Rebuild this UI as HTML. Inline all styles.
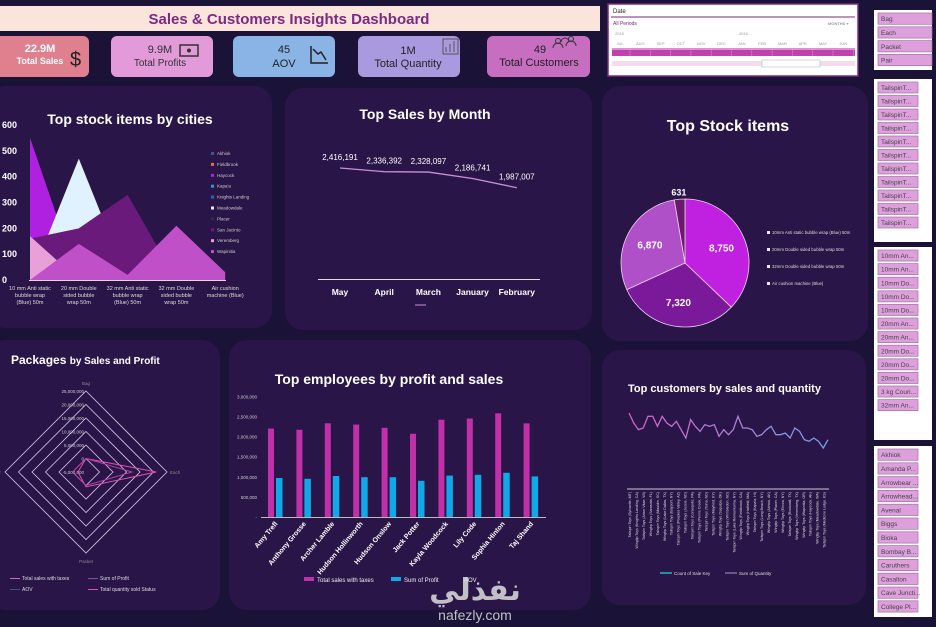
<!DOCTYPE html>
<html><head><meta charset="utf-8">
<style>
html,body{margin:0;padding:0;background:#1b1238;width:936px;height:627px;overflow:hidden;font-family:"Liberation Sans","DejaVu Sans",sans-serif;}
svg{display:block}
text{font-family:"Liberation Sans","DejaVu Sans",sans-serif}
</style></head>
<body>
<svg id="s" width="936" height="627" viewBox="0 0 936 627" xmlns="http://www.w3.org/2000/svg">
<rect x="0" y="0" width="936" height="627" fill="#1b1238"/>
<rect x="0" y="6" width="600" height="25" fill="#fbe4dc"/>
<text x="289" y="24" text-anchor="middle" font-size="15" font-weight="bold" fill="#7a2a80">Sales &amp; Customers Insights Dashboard</text>
<g><rect x="-6" y="36" width="95" height="41" rx="6" fill="#e0808f"/><text x="40" y="52" text-anchor="middle" font-size="11" font-weight="bold" fill="#fff">22.9M</text><text x="40" y="64" text-anchor="middle" font-size="9" font-weight="bold" fill="#fff">Total Sales</text><text x="70" y="66" font-size="20" fill="#222">$</text></g>
<g><rect x="111" y="36" width="102" height="41" rx="6" fill="#e29ad8"/><text x="160" y="53" text-anchor="middle" font-size="11" fill="#333">9.9M</text><text x="160" y="66" text-anchor="middle" font-size="10" fill="#333">Total Profits</text><rect x="180" y="45" width="18" height="11" fill="none" stroke="#333" stroke-width="1.5"/><circle cx="189" cy="50.5" r="2" fill="#333"/></g>
<g><rect x="233" y="36" width="102" height="41" rx="6" fill="#8ab4e6"/><text x="284" y="53" text-anchor="middle" font-size="11" fill="#222">45</text><text x="284" y="67" text-anchor="middle" font-size="11" fill="#222">AOV</text><path d="M311 46 L311 63 L328 63 M313 49 L318 54 L321 52 L326 60" fill="none" stroke="#222" stroke-width="1.5"/></g>
<g><rect x="358" y="36" width="102" height="41" rx="6" fill="#a99ae0"/><text x="408" y="54" text-anchor="middle" font-size="11" fill="#222">1M</text><text x="408" y="67" text-anchor="middle" font-size="11" fill="#222">Total Quantity</text><path d="M443 39 L443 54 L458 54 L458 39 Z M446 52 V47 M450 52 V44 M454 52 V41" fill="none" stroke="#555" stroke-width="1"/></g>
<g><rect x="487" y="36" width="103" height="41" rx="6" fill="#c76ec0"/><text x="540" y="53" text-anchor="middle" font-size="11" fill="#222">49</text><text x="539" y="66" text-anchor="middle" font-size="11" fill="#222">Total Customers</text><path d="M553 48 a5 5 0 0 1 10 0 M566 46 a5 5 0 0 1 10 0 M561 42 a4 4 0 0 1 8 0" fill="none" stroke="#333" stroke-width="1"/><circle cx="558" cy="41" r="2.5" fill="none" stroke="#333"/><circle cx="571" cy="39" r="2.5" fill="none" stroke="#333"/></g>

<rect x="-12" y="86" width="284" height="242" rx="18" fill="#2a1548"/>
<rect x="285" y="88" width="307" height="242" rx="18" fill="#2a1548"/>
<rect x="602" y="86" width="266" height="255" rx="18" fill="#2a1548"/>
<rect x="-12" y="340" width="232" height="270" rx="18" fill="#2a1548"/>
<rect x="229" y="340" width="362" height="270" rx="18" fill="#2a1548"/>
<rect x="602" y="350" width="264" height="255" rx="18" fill="#2a1548"/>

<text x="130" y="124" text-anchor="middle" font-size="14" font-weight="bold" fill="#fff">Top stock items by cities</text>
<text x="425" y="119" text-anchor="middle" font-size="14" font-weight="bold" fill="#fff">Top Sales by Month</text>
<text x="728" y="131" text-anchor="middle" font-size="16" font-weight="bold" fill="#fff">Top Stock items</text>
<text x="11" y="364" font-size="12" font-weight="bold" fill="#fff">Packages <tspan font-size="10">by Sales and Profit</tspan></text>
<text x="389" y="384" text-anchor="middle" font-size="14" font-weight="bold" fill="#fff">Top employees by profit and sales</text>
<text x="628" y="392" font-size="11" font-weight="bold" fill="#fff">Top customers by sales and quantity</text>

<g id="c1"></g><g id="c2"></g><g id="c3"></g><g id="c4"></g><g id="c5"></g><g id="c6"></g><g id="sl"></g>

<g id="dateSlicer">
<rect x="608" y="4" width="250" height="72" fill="#fff" stroke="#7a2a80" stroke-width="1.5"/>
<text x="613" y="13" font-size="6" fill="#222">Date</text>
<line x1="611" y1="17" x2="855" y2="17" stroke="#7a2a80" stroke-width="1"/>
<text x="613" y="25" font-size="5" fill="#7a2a80">All Periods</text>
<text x="828" y="25" font-size="4" fill="#999">MONTHS ▾</text>
<text x="615" y="35" font-size="4" fill="#999">2015</text><text x="739" y="35" font-size="4" fill="#999">2016</text>
<rect x="612" y="48" width="243" height="8" fill="#c040b0"/>
<rect x="612" y="48" width="243" height="2" fill="#e090d0"/>
<rect x="612" y="61" width="243" height="5" fill="#f4dcef"/>
<rect x="762" y="60" width="58" height="7" fill="#fff" stroke="#aaa" stroke-width="0.5"/>
</g>
<text x="475" y="600" text-anchor="middle" font-size="30" font-weight="bold" fill="#ddd" opacity="0.85" font-family="DejaVu Sans">نفذلي</text>
<text x="475" y="620" text-anchor="middle" font-size="14" fill="#ddd" opacity="0.85">nafezly.com</text>
</svg>
<script>
const NS='http://www.w3.org/2000/svg';
function mk(p,t,a,txt){const e=document.createElementNS(NS,t);for(const k in a)e.setAttribute(k,a[k]);if(txt!==undefined)e.textContent=txt;p.appendChild(e);return e;}

const dsMonths=['JUL','AUG','SEP','OCT','NOV','DEC','JAN','FEB','MAR','APR','MAY','JUN'];
const ds=document.getElementById('dateSlicer');
dsMonths.forEach((m,i)=>{const x=620+i*20.3;mk(ds,'text',{x,y:45,'text-anchor':'middle','font-size':4,fill:'#999'},m);mk(ds,'line',{x1:x+10,y1:48,x2:x+10,y2:56,stroke:'#e090d0','stroke-width':0.5});});
ds.querySelector('text:nth-of-type(3)').setAttribute('font-weight','bold');

// Chart 1
const c1Cats=['10 mm Anti static|bubble wrap|(Blue) 50m','20 mm Double|sided bubble|wrap 50m','32 mm Anti static|bubble wrap|(Blue) 50m','32 mm Double|sided bubble|wrap 50m','Air cushion|machine (Blue)'];
const c1Cities=['Akhiok','Fieldbrook','Haycock',"Kapa'a",'Knights Landing','Meadowdale','Placer','San Jacinto','Veremberg','Wapinitia'];
const c1Colors=['#3a5a8a','#e0704a','#b020e0','#2a9ac0','#2070b0','#e0f2ff','#2a2a5a','#6a1a7a','#e8a0d8','#c050c8'];
const c1Haycock=[550,0,0,0,0];
const c1Meadowdale=[0,470,0,0,0];
const c1Kapaa=[0,0,0,130,0];
const c1SanJacinto=[160,200,330,0,0];
const c1Veremberg=[170,0,0,0,0];
const c1Wapinitia=[0,140,20,210,30];
const c1Ticks=[0,100,200,300,400,500,600];
const g1=document.getElementById('c1');
const x1=i=>30+i*48.8, y1=v=>280-v*0.2583;
c1Ticks.forEach(t=>{const e=mk(g1,'text',{x:2,y:y1(t)+3,'font-size':9,'font-weight':'bold',fill:'#fff'},t);

});
[[c1Haycock,2],[c1Meadowdale,5],[c1Kapaa,3],[c1SanJacinto,7],[c1Veremberg,8],[c1Wapinitia,9]].forEach(([arr,ci])=>{
 let d='M'+x1(0)+' '+y1(0);arr.forEach((v,i)=>d+=' L'+x1(i)+' '+y1(v));d+=' L'+x1(arr.length-1)+' '+y1(0)+'Z';
 const e=mk(g1,'path',{d,fill:c1Colors[ci]});
 
 });
mk(g1,'line',{x1:29,y1:280.5,x2:226,y2:280.5,stroke:'#ddd','stroke-width':1});
c1Cats.forEach((c,i)=>{c.split('|').forEach((l,j)=>{const e=mk(g1,'text',{x:x1(i),y:290+j*7,'text-anchor':'middle','font-size':5.5,fill:'#ddd'},l);

});});
c1Cities.forEach((c,i)=>{const y=155+i*10.9;mk(g1,'rect',{x:211,y:y-3,width:3,height:3,fill:c1Colors[i]});
const e=mk(g1,'text',{x:217,y:y,'font-size':4.5,fill:'#ccc'},c);

});

// Chart 2
const c2Months=['May','April','March','January','February'];
const c2Sales=[2416191,2336392,2328097,2186741,1987007];
const g2=document.getElementById('c2');
const x2=i=>340+i*44.2, y2=v=>279-v*4.594e-5;
mk(g2,'line',{x1:318,y1:279.5,x2:540,y2:279.5,stroke:'#ddd','stroke-width':1});
const ln=mk(g2,'polyline',{points:c2Sales.map((v,i)=>x2(i)+','+y2(v)).join(' '),fill:'none',stroke:'#c890d8','stroke-width':1.3});


c2Sales.forEach((v,i)=>{const e=mk(g2,'text',{x:x2(i),y:y2(v)-8,'text-anchor':'middle','font-size':8,fill:'#fff'},v.toLocaleString('en-US'));


const m=mk(g2,'text',{x:x2(i),y:295,'text-anchor':'middle','font-size':8.5,'font-weight':'bold',fill:'#fff'},c2Months[i]);

});
mk(g2,'line',{x1:415,y1:305,x2:426,y2:305,stroke:'#c890d8','stroke-width':1});

// Chart 3
const c3Items=['10mm Anti static bubble wrap (Blue) 50m','20mm Double sided bubble wrap 50m','32mm Double sided bubble wrap 50m','Air cushion machine (Blue)'];
const c3Values=[8750,7320,6870,631];
const c3Colors=['#c020e0','#7a1a9a','#b050c8','#6a1a6a'];
const g3=document.getElementById('c3');
const cx=685,cy=263,r=64,tot=c3Values.reduce((a,b)=>a+b,0);
let ang=0;
c3Values.forEach((v,i)=>{const a0=ang,a1=ang+v/tot*2*Math.PI;ang=a1;
 const p=a=>[cx+r*Math.sin(a),cy-r*Math.cos(a)];const [sx,sy]=p(a0),[ex,ey]=p(a1);
 const e=mk(g3,'path',{d:`M${cx} ${cy} L${sx} ${sy} A${r} ${r} 0 ${a1-a0>Math.PI?1:0} 1 ${ex} ${ey}Z`,fill:c3Colors[i],stroke:'#f0d0f0','stroke-width':0.8});
 
 
 const m=(a0+a1)/2;const lr=i==3?r+8:r*0.62;
 const t=mk(g3,'text',{x:cx+lr*Math.sin(m),y:cy-lr*Math.cos(m)+4,'text-anchor':'middle','font-size':i==3?9:10,'font-weight':'bold',fill:'#fff'},v.toLocaleString('en-US'));
 
 });
c3Items.forEach((c,i)=>{const y=234+i*17;mk(g3,'rect',{x:767,y:y-3,width:3,height:3,fill:'#eee'});
const e=mk(g3,'text',{x:772,y:y,'font-size':4.3,fill:'#ddd'},c);

});

// Chart 4
const c4Axes=['Bag','Each','Packet','Pair'];
const c4Ticks=[-5000000,0,5000000,10000000,15000000,20000000,25000000];
const c4Sales=[0,21000000,500000,-2000000];
const c4Profit=[0,12000000,0,0];
const g4=document.getElementById('c4');
const rcx=86,rcy=472,rr=v=>(v+5000000)/30000000*81;
const pt=(i,v)=>{const a=i*Math.PI/2;return [rcx+rr(v)*Math.sin(a),rcy-rr(v)*Math.cos(a)];};
c4Ticks.slice(1).forEach(t=>{const e=mk(g4,'polygon',{points:[0,1,2,3].map(i=>pt(i,t).join(',')).join(' '),fill:'none',stroke:'#d8c8e8','stroke-width':0.8});


mk(g4,'text',{x:rcx-2,y:pt(0,t)[1]+2,'text-anchor':'end','font-size':4.5,fill:'#ccc'},t.toLocaleString('en-US'));});
mk(g4,'text',{x:rcx-2,y:rcy+2,'text-anchor':'end','font-size':4.5,fill:'#ccc'},'-5,000,000');
c4Axes.forEach((a,i)=>{const [x,y]=pt(i,28000000);mk(g4,'text',{x,y:y+2,'text-anchor':'middle','font-size':4.5,fill:'#888'},a);});
[[c4Sales,'#e050b0'],[c4Profit,'#b040a0']].forEach(([arr,col],k)=>{const e=mk(g4,'polygon',{points:arr.map((v,i)=>pt(i,v).join(',')).join(' '),fill:'none',stroke:col,'stroke-width':1});

});
[['Total sales with taxes',10,580,'#c070c0'],['Sum of Profit',88,580,'#8050a0'],['AOV',10,591,'#405070'],['Total quantity sold Status',88,591,'#e050b0']].forEach(([t,x,y,c])=>{mk(g4,'line',{x1:x,y1:y-1.5,x2:x+10,y2:y-1.5,stroke:c});
const e=mk(g4,'text',{x:x+12,y:y,'font-size':5,fill:'#ddd'},t);

});

// Chart 5
const c5Names=['Amy Trefl','Anthony Grosse','Archer Lamble','Hudson Hollinworth','Hudson Onslow','Jack Potter','Kayla Woodcock','Lily Code','Sophia Hinton','Taj Shand'];
const c5Sales=[2200000,2170000,2330000,2300000,2220000,2070000,2420000,2450000,2580000,2330000];
const c5Profit=[970000,950000,1020000,990000,990000,900000,1030000,1050000,1100000,1010000];
const c5Ticks=[0,500000,1000000,1500000,2000000,2500000,3000000];
const g5=document.getElementById('c5');
const x5=i=>268+i*28.4, y5=v=>517-v/500000*20.1;
c5Ticks.forEach(t=>{mk(g5,'text',{x:257,y:y5(t)+2,'text-anchor':'end','font-size':4.5,fill:'#ccc'},t?t.toLocaleString('en-US'):'-');});
c5Names.forEach((n,i)=>{
 const a=mk(g5,'rect',{x:x5(i),y:y5(c5Sales[i]),width:6,height:517-y5(c5Sales[i]),fill:'#c030a8'});
 
 
 const b=mk(g5,'rect',{x:x5(i)+8,y:y5(c5Profit[i]),width:6.5,height:517-y5(c5Profit[i]),fill:'#10a8e8'});
 
 
 const t=mk(g5,'text',{x:x5(i)+10,y:524,'text-anchor':'end','font-size':7,'font-weight':'bold',fill:'#fff',transform:`rotate(-50 ${x5(i)+10} 524)`},n);
 
 });
mk(g5,'line',{x1:261,y1:517.5,x2:546,y2:517.5,stroke:'#bbb','stroke-width':1});
mk(g5,'rect',{x:304,y:577,width:10,height:4,fill:'#c030a8'});mk(g5,'text',{x:317,y:582,'font-size':6,fill:'#eee'},'Total sales with taxes');
mk(g5,'rect',{x:391,y:577,width:10,height:4,fill:'#10a8e8'});mk(g5,'text',{x:404,y:582,'font-size':6,fill:'#eee'},'Sum of Profit');
mk(g5,'text',{x:464,y:582,'font-size':6,fill:'#eee'},'AOV');

// Chart 6
const c6Qty=[120,90,70,75,110,110,80,110,90,80,95,70,45,100,80,65,85,80,85,50,70,55,70,110,75,75,70,50,55,70,80,55,55,60,45,75,65,40,35,45,35,15,40];
const c6Labels=['Tailspin Toys (Sylvanite, MT)','Wingtip Toys (Knights Landing, CA)','Tailspin Toys (Arbor Vitae, WI)','Wingtip Toys (Sarasota, FL)','Tailspin Toys (Mauldin, SC)','Wingtip Toys (Lake Dallas, TX)','Tailspin Toys (Bayport, NY)','Tailspin Toys (Peeples Valley, AZ)','Tailspin Toys (Jessie, ND)','Tailspin Toys (Coraopolis, PA)','Tailspin Toys (Penns Creek, PA)','Tailspin Toys (Tolna, ND)','Tailspin Toys (Mayfield, KY)','Wingtip Toys (Sapulpa, OK)','Tailspin Toys (Wimbledon, ND)','Tailspin Toys (Lake Ronkonkoma, NY)','Wingtip Toys (Fieldbrook, CA)','Wingtip Toys (Hatfield, MA)','Tailspin Toys (Kapa\'a, HI)','Tailspin Toys (Long Beach, NY)','Wingtip Toys (Akhiok, AK)','Wingtip Toys (Placer, CA)','Wingtip Toys (Elmira, NY)','Tailspin Toys (Rockwall, TX)','Wingtip Toys (Veremberg, TX)','Wingtip Toys (Wapinitia, OR)','Tailspin Toys (Haycock, AK)','Wingtip Toys (Meadowdale, WA)','Tailspin Toys (Medicine Lodge, KS)'];
const g6=document.getElementById('c6');
const x6=i=>629+i*(828-629)/(c6Qty.length-1), y6=v=>413+(120-v)/3;
const defs=mk(document.getElementById('s'),'defs',{});
const lg=mk(defs,'linearGradient',{id:'cg',x1:0,x2:1,y1:0,y2:0});
mk(lg,'stop',{offset:'0','stop-color':'#d060c0'});mk(lg,'stop',{offset:'0.5','stop-color':'#b080d0'});mk(lg,'stop',{offset:'1','stop-color':'#70a0e0'});
const l6=mk(g6,'polyline',{points:c6Qty.map((v,i)=>x6(i)+','+y6(v)).join(' '),fill:'none',stroke:'url(#cg)','stroke-width':1.3});


mk(g6,'line',{x1:627,y1:489,x2:829,y2:489,stroke:'#ccc','stroke-width':1});
c6Labels.forEach((t,i)=>{const x=631+i*6.95;const e=mk(g6,'text',{x,y:492,'text-anchor':'end','font-size':3.6,fill:'#ddd',transform:`rotate(-90 ${x} 492)`},t);

});
mk(g6,'rect',{x:660,y:572,width:12,height:2,fill:'#2a8aa0'});mk(g6,'text',{x:674,y:575,'font-size':4.5,fill:'#ddd'},'Count of Sale Key');
mk(g6,'line',{x1:725,y1:573,x2:737,y2:573,stroke:'#b090d0'});mk(g6,'text',{x:739,y:575,'font-size':4.5,fill:'#ddd'},'Sum of Quantity');

// Slicers
const slUnits=['Bag','Each','Packet','Pair'];
const slStock=Array(11).fill('TailspinT...');
const slStock2=['10mm An...','10mm An...','10mm Do...','10mm Do...','10mm Do...','20mm An...','20mm An...','20mm Do...','20mm Do...','20mm Do...','3 kg Couri...','32mm An...'];
const slCity=['Akhiok','Amanda P...','Arrowbear ...','Arrowhead...','Avenal','Biggs','Bioka','Bombay B...','Caruthers','Casalton','Cave Juncti...','College Pl...'];
const sl=document.getElementById('sl');
function slicer(name,x,y,w,h,items,top,step,bw){const b=mk(sl,'rect',{x,y,width:w,height:h,fill:'#fff'});


items.forEach((t,i)=>{const yy=top+i*step;if(yy+10>y+h)return;const r=mk(sl,'rect',{x:x+4,y:yy,width:bw,height:step-2.5,fill:'#dda0dd',stroke:'#a070a0','stroke-width':0.7});


mk(sl,'text',{x:x+7,y:yy+(step-2.5)/2+2.5,'font-size':6.5,fill:'#444'},t);});}
slicer('unit-slicer',874,10,58,60,slUnits,13,13.8,54);
slicer('stock-item-slicer',874,79,58,163,slStock,82,13.5,40);
slicer('stock-item-slicer-2',874,247,58,193,slStock2,250,13.6,40);
slicer('city-slicer',874,446,58,171,slCity,449,13.8,40);
</script>
</body></html>
